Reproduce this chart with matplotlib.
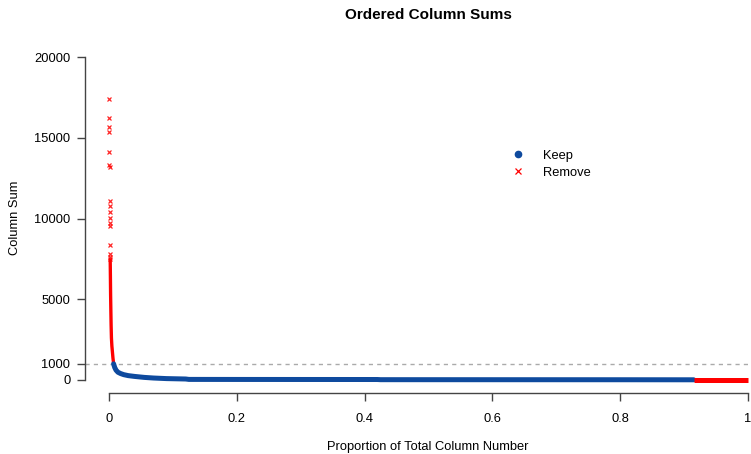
import matplotlib
matplotlib.use("Agg")
import matplotlib.pyplot as plt
from matplotlib.lines import Line2D

plt.rcParams["font.family"] = ["Liberation Sans", "DejaVu Sans"]

# columns with very large sums (flagged for removal), ordered by size
remove_top_x = [0.0002, 0.0003, 0.0004, 0.0005, 0.0006, 0.0007, 0.0008, 0.0009, 0.0010,
                0.0011, 0.0012, 0.0013, 0.0014, 0.0015, 0.0016, 0.0017, 0.0018]
remove_top_y = [17390, 16260, 15680, 15370, 14150, 13300, 13200, 11120, 10760,
                10390, 10040, 9710, 9560, 8380, 7800, 7600, 7500]

# dense run of removed columns still above the cutoff
remove_dense_x = [0.0018, 0.0019, 0.0022, 0.0025, 0.0029, 0.0033, 0.0038, 0.0045, 0.0053, 0.0062, 0.0072]
remove_dense_y = [7500, 7400, 6400, 5300, 4300, 3400, 2600, 2100, 1750, 1350, 1010]

# kept columns
keep_x = [0.0072, 0.009, 0.011, 0.014, 0.018, 0.023, 0.03, 0.04, 0.055, 0.07,
          0.09, 0.12, 0.125, 0.2, 0.3, 0.42, 0.425, 0.6, 0.8, 0.915]
keep_y = [990, 760, 600, 470, 390, 320, 260, 210, 150, 110,
          75, 50, 25, 22, 20, 18, 8, 6, 4, 1]

# empty columns at the tail (also removed)
remove_zero_x = [0.916, 1.0]
remove_zero_y = [0, 0]

cutoff = 1000
x_ticks = [0, 0.2, 0.4, 0.6, 0.8, 1]
x_ticklabels = ["0", "0.2", "0.4", "0.6", "0.8", "1"]
y_ticks = [0, 1000, 5000, 10000, 15000, 20000]

keep_col = "#0E4A9E"
remove_col = "#FF0000"
axis_col = "#444444"

W, H = 751, 454
fig = plt.figure(figsize=(W / 100, H / 100), dpi=100)

# plot region in pixels (from top-left)
left_px, bottom_px, top_px = 85.0, 392.7, 44.5
x_scale = 639.0  # pixels per unit x
xlo, xhi = -24.0 / x_scale, 1 + 24.0 / x_scale
ax = fig.add_axes([left_px / W, 1 - bottom_px / H,
                   (xhi - xlo) * x_scale / W, (bottom_px - top_px) / H])
ax.set_xlim(xlo, xhi)
ax.set_ylim(-800, 20800)

ax.axhline(cutoff, color="#AAAAAA", lw=1.0, ls=(0, (3, 3)), zorder=1)

ax.plot(remove_dense_x, remove_dense_y, color=remove_col, lw=2.4,
        solid_capstyle="butt", zorder=2)
ax.plot(keep_x, keep_y, color=keep_col, lw=3.6, solid_capstyle="round", zorder=3)
ax.plot(remove_zero_x, remove_zero_y, color=remove_col, lw=3.6,
        solid_capstyle="butt", zorder=3, clip_on=False)
ax.plot(remove_top_x, remove_top_y, ls="none", marker="x", ms=2.6, mew=0.9,
        color=remove_col, alpha=0.85, zorder=3)

# R-style axes
for side in ("top", "right"):
    ax.spines[side].set_visible(False)
for side in ("left", "bottom"):
    ax.spines[side].set_color(axis_col)
    ax.spines[side].set_linewidth(1.0)
ax.spines["bottom"].set_bounds(0, 1)
ax.spines["left"].set_bounds(0, 20000)

ax.set_xticks(x_ticks)
ax.set_xticklabels(x_ticklabels)
ax.set_yticks(y_ticks)
ax.set_yticklabels([str(v) for v in y_ticks])
ax.tick_params(axis="both", direction="out", length=5.5, width=1.0,
               color=axis_col, labelsize=9.3, labelcolor="black")
ax.tick_params(axis="x", pad=9)
ax.tick_params(axis="y", pad=5)

fig.text(428 / W, 1 - 15 / H, "Ordered Column Sums", ha="center", va="center",
         fontsize=11, fontweight="bold")
fig.text(428 / W, 1 - 447 / H, "Proportion of Total Column Number",
         ha="center", va="center", fontsize=9.3)
fig.text(15 / W, 1 - 218 / H, "Column Sum", ha="center", va="center",
         rotation=90, fontsize=9.3)

handles = [
    Line2D([], [], ls="none", marker="o", ms=4.5, color=keep_col),
    Line2D([], [], ls="none", marker="x", ms=4.5, mew=0.9, color=remove_col),
]
ax.legend(handles, ["Keep", "Remove"], loc="upper left",
          bbox_to_anchor=((511.75 - 83.4) / 690.1, (392.7 - 149.5) / 348.2),
          frameon=False, borderpad=0, borderaxespad=0, handlelength=1.0,
          handletextpad=1.45, labelspacing=0.4, fontsize=9.3)

fig.savefig("out.png", dpi=100)
